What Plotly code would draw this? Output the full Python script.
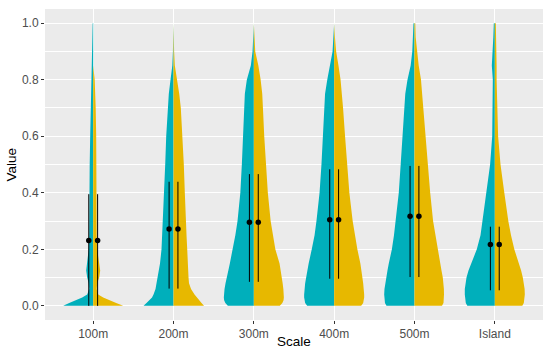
import plotly.graph_objects as go

CATEGORIES = ["100m", "200m", "300m", "400m", "500m", "Island"]
Y_LEVELS = [0, 0.01, 0.02, 0.03, 0.04, 0.06, 0.08, 0.1, 0.125, 0.15, 0.2, 0.25,
            0.3, 0.4, 0.5, 0.6, 0.7, 0.75, 0.8, 0.85, 0.9, 0.95, 1.0]

# relative density (half-width) of each violin half at Y_LEVELS
DENS_TEAL = {
    "100m": [30, 24, 17, 11, 6, 4, 4.5, 6, 7, 6, 4.5, 4, 4, 4, 3.5, 3, 2.5, 2.2, 2, 1.2, 0.8, 0.6, 0.5],
    "200m": [30, 27, 24, 21.5, 20, 18, 17, 16, 14.5, 13.5, 12, 11.3, 10.7, 9.5, 8.3, 7.3, 6, 4.7, 3, 1.2, 0.6, 0.5, 0.4],
    "300m": [26, 28.5, 29.7, 30, 30, 29.3, 28.3, 27.3, 25.5, 24, 21, 18.5, 16.3, 13.5, 12, 10.8, 9.8, 9, 7, 3, 1.3, 0.8, 0.5],
    "400m": [27, 29, 29.7, 30, 30, 29.7, 29, 28, 26.8, 25.5, 22.4, 19.6, 17.7, 14.6, 12.7, 11.3, 9.8, 9.1, 6.9, 3.9, 1.6, 0.8, 0.5],
    "500m": [28, 29.5, 30, 30.3, 30.3, 30, 29.3, 28.3, 27, 25.7, 22.6, 20.5, 18.7, 15.7, 13.8, 12, 10.2, 9.2, 7, 3.8, 2.2, 1.5, 1],
    "Island": [27.5, 29, 29.5, 29.8, 30, 30, 29.5, 28.3, 26.3, 23.7, 18, 14.3, 12.3, 8.4, 4.7, 2.6, 2, 2, 2, 3, 2, 1.5, 1],
}
DENS_YELLOW = {
    "100m": [30, 23, 16, 10, 5, 3.5, 4, 6, 7, 6, 4, 3.5, 3.5, 3.5, 3.5, 3, 2.5, 2, 1.5, 0, 0, 0, 0],
    "200m": [30.5, 28, 25.5, 23, 21, 17.5, 15.5, 15, 14.5, 14.3, 13.7, 13, 12.3, 11.3, 10.3, 9, 7.3, 5.7, 3.5, 1.3, 0.6, 0.5, 0.4],
    "300m": [26, 28.5, 29.7, 30, 30, 29.5, 28.8, 28, 26.8, 25.7, 21.5, 19, 16.8, 14, 12, 10.4, 9.1, 8.4, 6.8, 4.5, 1.4, 0.7, 0.5],
    "400m": [27, 29, 29.7, 30, 30, 29.8, 29, 28.2, 27.3, 26.2, 23.2, 20.5, 18.5, 15.2, 12.8, 10.9, 8.9, 7.9, 6.4, 4.3, 2, 0.8, 0.5],
    "500m": [27.5, 29, 29.3, 29.5, 29.5, 29.4, 29.1, 28.3, 27, 25.7, 23.2, 20.9, 18.6, 15.7, 13.4, 11.2, 9.4, 8.4, 6.5, 4.2, 2.4, 1.2, 0.8],
    "Island": [27.5, 29, 29.5, 29.8, 30, 29.8, 29.2, 28, 26.3, 24.2, 19.5, 16.2, 13.5, 9.5, 5.7, 3.3, 2.2, 2, 1.8, 1.8, 1.5, 1.2, 1],
}
MEAN = [0.231, 0.272, 0.296, 0.305, 0.317, 0.217]
LOWER = [0.0, 0.061, 0.085, 0.096, 0.102, 0.055]
UPPER = [0.395, 0.439, 0.466, 0.483, 0.495, 0.280]

TEAL = "#00AFBB"
YELLOW = "#E7B800"
WIDTH_UNIT = 1 / 80.3   # density unit -> category units
DODGE = 0.055
FONT = "Liberation Sans, Arial, sans-serif"

fig = go.Figure()
for i, cat in enumerate(CATEGORIES):
    c = i + 1
    for dens, sign, col in ((DENS_TEAL[cat], -1, TEAL), (DENS_YELLOW[cat], 1, YELLOW)):
        xs = [c] + [c + sign * d * WIDTH_UNIT for d in dens] + [c]
        ys = [Y_LEVELS[0]] + list(Y_LEVELS) + [Y_LEVELS[-1]]
        fig.add_trace(go.Scatter(x=xs, y=ys, mode="lines", fill="toself",
                                 fillcolor=col, line=dict(width=0, color=col),
                                 hoverinfo="skip", showlegend=False))

for sign in (-1, 1):
    xs = [i + 1 + sign * DODGE for i in range(len(CATEGORIES))]
    fig.add_trace(go.Scatter(
        x=xs, y=MEAN, mode="markers",
        marker=dict(color="black", size=5.5),
        error_y=dict(type="data", symmetric=False,
                     array=[u - m for u, m in zip(UPPER, MEAN)],
                     arrayminus=[m - l for m, l in zip(MEAN, LOWER)],
                     width=0, thickness=1, color="black"),
        showlegend=False))

fig.update_layout(
    width=550, height=357,
    margin=dict(l=45, r=7, t=9, b=37, autoexpand=False),
    plot_bgcolor="#EBEBEB", paper_bgcolor="white",
    font=dict(family=FONT, color="#4D4D4D"),
    showlegend=False,
    annotations=[
        dict(text="Scale", xref="paper", yref="paper", x=0.5, y=-0.0707,
             xanchor="center", yanchor="middle", showarrow=False,
             font=dict(size=13.5, color="black", family=FONT)),
        dict(text="Value", xref="paper", yref="paper", x=-0.0663, y=0.5,
             xanchor="center", yanchor="middle", textangle=-90, showarrow=False,
             font=dict(size=13.5, color="black", family=FONT)),
    ],
)
fig.update_xaxes(
    automargin=False,
    range=[0.4, 6.6], tickmode="array", tickvals=list(range(1, 7)), ticktext=CATEGORIES,
    showgrid=True, gridcolor="white", gridwidth=1.1, zeroline=False,
    ticks="outside", ticklen=3, tickcolor="#333333", tickwidth=1,
    tickfont=dict(size=12, color="#4D4D4D", family=FONT),
)
fig.update_yaxes(
    automargin=False,
    range=[-0.05, 1.05], tick0=0, dtick=0.2, tickformat=".1f",
    showgrid=True, gridcolor="white", gridwidth=1.1, zeroline=False,
    minor=dict(tick0=0.1, dtick=0.2, showgrid=True, gridcolor="white", gridwidth=0.5),
    ticks="outside", ticklen=3, tickcolor="#333333", tickwidth=1,
    tickfont=dict(size=12, color="#4D4D4D", family=FONT),
)

fig.write_html("out.html", config={"displayModeBar": False},
               post_script="document.body.style.margin='0';")
